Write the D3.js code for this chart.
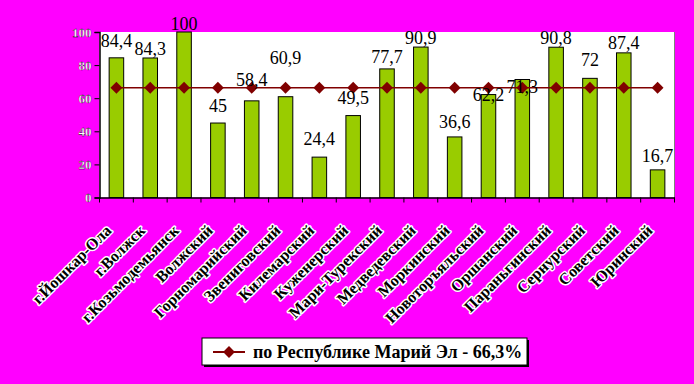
<!DOCTYPE html>
<html>
<head>
<meta charset="utf-8">
<script src="https://cdn.jsdelivr.net/npm/d3@7"></script>
<style>
  body { margin: 0; background: #ff00ff; }
  svg { display: block; }
</style>
</head>
<body>
<div id="chart-area"></div>
<script>
const districts = ["г.Йошкар-Ола", "г.Волжск", "г.Козьмодемьянск", "Волжский", "Горномарийский",
  "Звениговский", "Килемарский", "Куженерский", "Мари-Турекский", "Медведевский", "Моркинский",
  "Новоторъяльский", "Оршанский", "Параньгинский", "Сернурский", "Советский", "Юринский"];
const shares = [84.4, 84.3, 100, 45, 58.4, 60.9, 24.4, 49.5, 77.7, 90.9, 36.6, 62.2, 71.3, 90.8, 72, 87.4, 16.7];
const republicAvg = 66.3;
const yTicks = [0, 20, 40, 60, 80, 100];
const legendLabel = "по Республике Марий Эл - 66,3%";

// hand-placed label offsets above bar tops (px), as in the original
const labelLift = [11, 3, 2, 11, 15, 33, 12, 12, 6, 3, 9, -6, -14, 3, 12, 4, 8];

let W = 694, H = 384;
let margin = {top: 32, left: 99.5},
  width = 674.5 - margin.left,
  height = 197.5 - margin.top;

let svg = d3.select("#chart-area")
  .append("svg")
  .attr("width", W)
  .attr("height", H)
  .style("font-family", "'Liberation Serif', 'Times New Roman', serif");

svg.append("rect").attr("width", W).attr("height", H).attr("fill", "#ff00ff");

let g = svg.append("g")
  .attr("transform", "translate(" + margin.left + "," + margin.top + ")");

let x = d3.scaleBand().domain(districts).range([0, width]).paddingInner(0).paddingOuter(0);
let y = d3.scaleLinear().domain([0, 100]).range([height, 0]);

// plot area
g.append("rect")
  .attr("width", width)
  .attr("height", height)
  .attr("fill", "#fff");
g.append("line")
  .attr("x1", width).attr("x2", width)
  .attr("y1", 0).attr("y2", height)
  .attr("stroke", "#808080");

// bars
let bw = x.bandwidth() * 0.43;
g.selectAll(".bar")
  .data(shares)
  .enter()
  .append("rect")
  .attr("class", "bar")
  .attr("x", (d, i) => x(districts[i]) + x.bandwidth() / 2 - bw / 2)
  .attr("y", d => y(d))
  .attr("width", bw)
  .attr("height", d => height - y(d))
  .attr("fill", "#99cc00")
  .attr("stroke", "#000")
  .attr("stroke-width", 1);

// republic average line
let cx = d => x(d) + x.bandwidth() / 2;
g.append("path")
  .datum(districts)
  .attr("fill", "none")
  .attr("stroke", "#800000")
  .attr("stroke-width", 1.5)
  .attr("d", d3.line().x(d => cx(d)).y(() => y(republicAvg)));

g.selectAll(".avg")
  .data(districts)
  .enter()
  .append("path")
  .attr("class", "avg")
  .attr("transform", d => "translate(" + cx(d) + "," + y(republicAvg) + ") rotate(45)")
  .attr("d", "M-4.2,-4.2H4.2V4.2H-4.2Z")
  .attr("fill", "#800000");

// value labels
g.selectAll(".val")
  .data(shares)
  .enter()
  .append("text")
  .attr("class", "val")
  .attr("x", (d, i) => cx(districts[i]))
  .attr("y", (d, i) => y(d) - labelLift[i])
  .attr("text-anchor", "middle")
  .style("font-size", "18px")
  .text(d => String(d).replace(".", ","));

// axes
let yAxis = d3.axisLeft(y).tickValues(yTicks).tickSize(5).tickPadding(3);
let yg = g.append("g").call(yAxis);
yg.select(".domain").attr("stroke-width", 1.5);
yg.selectAll("text")
  .attr("fill", "#fff")
  .attr("stroke", "#000")
  .attr("stroke-width", 0.3)
  .style("font-size", "13px")
  .style("font-weight", "bold")
  .style("font-family", "'Liberation Serif', serif");

let xAxis = d3.axisBottom(x).tickSize(0).tickFormat("");
let xg = g.append("g").attr("transform", "translate(0," + height + ")").call(xAxis);
xg.select(".domain").attr("stroke-width", 1.5);
xg.selectAll(".bnd")
  .data(d3.range(districts.length + 1))
  .enter()
  .append("line")
  .attr("class", "bnd")
  .attr("x1", i => i * x.step()).attr("x2", i => i * x.step())
  .attr("y1", 0).attr("y2", 5)
  .attr("stroke", "#000");

// rotated category labels
g.selectAll(".cat")
  .data(districts)
  .enter()
  .append("text")
  .attr("class", "cat")
  .attr("transform", d => "translate(" + (cx(d) - 4) + "," + (height + 34) + ") rotate(-45)")
  .attr("text-anchor", "end")
  .style("font-size", "16px")
  .style("font-weight", "bold")
  .style("paint-order", "stroke")
  .attr("stroke", "#fff")
  .attr("stroke-width", 3)
  .attr("stroke-linejoin", "round")
  .attr("fill", "#000")
  .text(d => d);

// legend
let lg = svg.append("g").attr("transform", "translate(202,338)");
lg.append("rect").attr("x", 2).attr("y", 2).attr("width", 325).attr("height", 27).attr("fill", "#000");
lg.append("rect").attr("width", 325).attr("height", 27).attr("fill", "#fff").attr("stroke", "#000");
lg.append("line").attr("x1", 11).attr("x2", 43).attr("y1", 14).attr("y2", 14)
  .attr("stroke", "#800000").attr("stroke-width", 2);
lg.append("path").attr("transform", "translate(27,14) rotate(45)")
  .attr("d", "M-4.2,-4.2H4.2V4.2H-4.2Z").attr("fill", "#800000");
lg.append("text").attr("x", 51).attr("y", 20)
  .style("font-size", "18px")
  .style("font-weight", "bold")
  .text(legendLabel);
</script>
</body>
</html>
